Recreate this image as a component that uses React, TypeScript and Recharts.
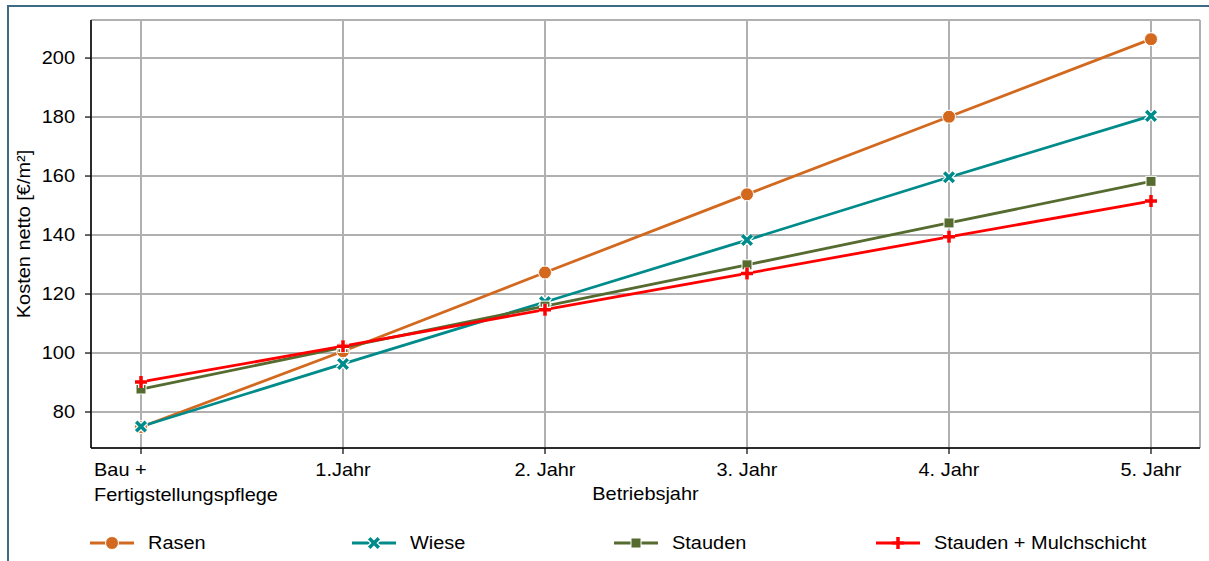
import React from 'react'
import {
  LineChart,
  Line,
  XAxis,
  YAxis,
  CartesianGrid,
} from 'recharts'

const categories = ['Bau +\nFertigstellungspflege', '1.Jahr', '2. Jahr', '3. Jahr', '4. Jahr', '5. Jahr']
const rasen = [74.9, 100.6, 127.3, 153.8, 180.1, 206.4]
const wiese = [75.1, 96.3, 117.3, 138.3, 159.6, 180.4]
const stauden = [87.8, 101.9, 115.9, 129.9, 144.1, 158.2]
const mulch = [90.2, 102.3, 114.7, 127.0, 139.4, 151.5]
const yTicks = [80, 100, 120, 140, 160, 180, 200]

const data = categories.map((label, i) => ({
  label,
  rasen: rasen[i],
  wiese: wiese[i],
  stauden: stauden[i],
  mulch: mulch[i],
}))

const FONT = '"Liberation Sans", Arial, sans-serif'
const FS = 17.5
// the source text is a bit wider than it is tall
const SX = 1.14

type MarkerKind = 'circle' | 'x' | 'square' | 'plus'

function Marker({ cx, cy, kind, color }: { cx: number; cy: number; kind: MarkerKind; color: string }) {
  if (kind === 'circle') {
    return <circle cx={cx} cy={cy} r={6.5} fill={color} stroke="#fff" strokeWidth={1} />
  }
  if (kind === 'square') {
    return <rect x={cx - 5} y={cy - 5} width={10} height={10} fill={color} stroke="#fff" strokeWidth={1} />
  }
  const h = kind === 'x' ? 4.8 : 6
  const d =
    kind === 'x'
      ? `M${cx - h},${cy - h}L${cx + h},${cy + h}M${cx - h},${cy + h}L${cx + h},${cy - h}`
      : `M${cx - h},${cy}L${cx + h},${cy}M${cx},${cy - h}L${cx},${cy + h}`
  return (
    <g>
      <path d={d} stroke="#fff" strokeWidth={6} fill="none" />
      <path d={d} stroke={color} strokeWidth={3.5} fill="none" />
    </g>
  )
}

function StretchText({ x, y, anchor = 'start', rotate = 0, children }: any) {
  return (
    <g transform={`translate(${x},${y}) rotate(${rotate}) scale(${SX},1)`}>
      <text x={0} y={0} textAnchor={anchor} fontFamily={FONT} fontSize={FS} fill="#000">
        {children}
      </text>
    </g>
  )
}

const series: { key: string; name: string; color: string; kind: MarkerKind }[] = [
  { key: 'rasen', name: 'Rasen', color: '#d2691e', kind: 'circle' },
  { key: 'wiese', name: 'Wiese', color: '#008b8b', kind: 'x' },
  { key: 'stauden', name: 'Stauden', color: '#556b2f', kind: 'square' },
  { key: 'mulch', name: 'Stauden + Mulchschicht', color: '#ff0000', kind: 'plus' },
]

function XTick(props: any) {
  const { x, y, payload, index } = props
  const lines = String(payload.value).split('\n')
  const first = index === 0
  return (
    <g>
      {lines.map((l, i) => (
        <StretchText key={i} x={first ? x - 47 : x} y={y + 20 + i * 24.5} anchor={first ? 'start' : 'middle'}>
          {l}
        </StretchText>
      ))}
    </g>
  )
}

function YTick(props: any) {
  const { x, y, payload } = props
  return (
    <StretchText x={x} y={y + 6.2} anchor="end">
      {payload.value}
    </StretchText>
  )
}

export default function App() {
  return (
    <div style={{ position: 'absolute', left: 0, top: 0, width: 1209, height: 561, overflow: 'hidden', background: '#fff' }}>
      <div
        style={{
          position: 'absolute',
          left: 7,
          top: 5,
          width: 1400,
          height: 800,
          border: '2px solid #3e6a84',
        }}
      />
      <div style={{ position: 'absolute', left: 0, top: 0 }}>
        <LineChart width={1209} height={561} data={data} margin={{ top: 20, right: 9, left: 0, bottom: 0 }}>
          <CartesianGrid stroke="#b0b0b0" strokeWidth={2} />
          <XAxis
            dataKey="label"
            height={113}
            padding={{ left: 50, right: 49 }}
            axisLine={{ stroke: '#000', strokeWidth: 1.5 }}
            tickLine={{ stroke: '#000', strokeWidth: 1.2 }}
            tickSize={6}
            tick={<XTick />}
            interval={0}
            label={{
              content: ({ viewBox }: any) => (
                <StretchText x={viewBox.x + viewBox.width / 2} y={viewBox.y + 52} anchor="middle">
                  Betriebsjahr
                </StretchText>
              ),
            }}
          />
          <XAxis
            xAxisId="top"
            dataKey="label"
            orientation="top"
            height={0}
            padding={{ left: 50, right: 49 }}
            tick={false}
            tickLine={false}
            axisLine={{ stroke: '#000', strokeWidth: 1.5 }}
          />
          <YAxis
            type="number"
            width={91}
            domain={[67.8, 212.9]}
            ticks={yTicks}
            allowDataOverflow
            axisLine={{ stroke: '#000', strokeWidth: 1.5 }}
            tickLine={{ stroke: '#000', strokeWidth: 1.2 }}
            tickSize={6}
            tickMargin={10}
            tick={<YTick />}
            label={{
              content: ({ viewBox }: any) => (
                <StretchText x={30} y={viewBox.y + viewBox.height / 2} anchor="middle" rotate={-90}>
                  Kosten netto [€/m²]
                </StretchText>
              ),
            }}
          />
          <YAxis
            yAxisId="right"
            orientation="right"
            width={0}
            domain={[67.8, 212.9]}
            tick={false}
            tickLine={false}
            axisLine={{ stroke: '#000', strokeWidth: 1.5 }}
          />
          {series.map((s) => (
            <Line
              key={s.key}
              dataKey={s.key}
              name={s.name}
              stroke={s.color}
              strokeWidth={2.8}
              isAnimationActive={false}
              dot={(p: any) => <Marker key={`${s.key}-${p.index}`} cx={p.cx} cy={p.cy} kind={s.kind} color={s.color} />}
              activeDot={false}
            />
          ))}
        </LineChart>
      </div>
      {series.map((s, i) => (
        <div
          key={s.key}
          style={{
            position: 'absolute',
            left: 90 + i * 262,
            top: 531,
            height: 24,
            display: 'flex',
            alignItems: 'center',
            fontFamily: FONT,
            fontSize: FS,
            color: '#000',
            whiteSpace: 'nowrap',
          }}
        >
          <svg width={44} height={24} style={{ marginRight: 14 }}>
            <line x1={0} y1={12} x2={44} y2={12} stroke={s.color} strokeWidth={3} />
            <Marker cx={22} cy={12} kind={s.kind} color={s.color} />
          </svg>
          <span style={{ display: 'inline-block', transform: `scaleX(${SX})`, transformOrigin: 'left center' }}>
            {s.name}
          </span>
        </div>
      ))}
    </div>
  )
}
